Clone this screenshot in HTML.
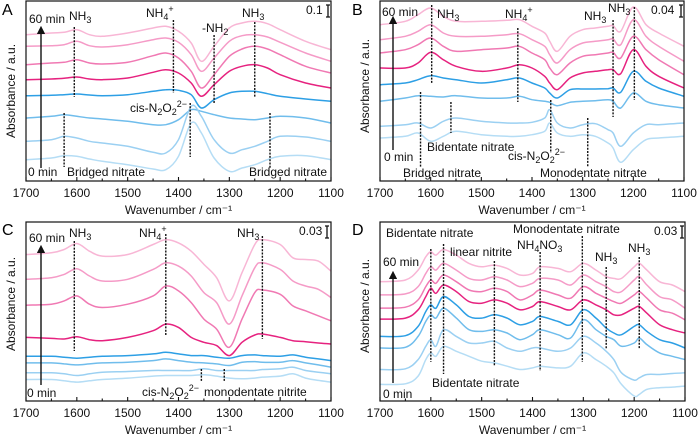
<!DOCTYPE html>
<html><head><meta charset="utf-8"><style>
html,body{margin:0;padding:0;background:#fff;}
svg{display:block;font-family:"Liberation Sans",sans-serif;}
.t{font-size:12px;fill:#111;}
.sub{font-size:9px;}
.ann{stroke:#111;stroke-width:1.4;stroke-dasharray:2 1.3;fill:none;}
.frame{fill:none;stroke:#111;stroke-width:1.2;}
</style></head><body>
<svg id="fig" width="700" height="438" viewBox="0 0 700 438">
<defs><marker id="ah" markerWidth="6" markerHeight="6" refX="3" refY="3" orient="auto"><path d="M0,0 L6,3 L0,6 z" fill="#111"/></marker></defs>
<g id="panels"></g>
<g>
<text x="2" y="15" style="font-size:16px">A</text>
<text class="t" x="29" y="23">60 min</text>
<text class="t" x="69" y="20">NH<tspan class="sub" dy="3">3</tspan></text>
<text class="t" x="146" y="17">NH<tspan class="sub" dy="3">4</tspan><tspan class="sub" dy="-8">+</tspan></text>
<text class="t" x="202" y="32">-NH<tspan class="sub" dy="3">2</tspan></text>
<text class="t" x="242" y="17">NH<tspan class="sub" dy="3">3</tspan></text>
<text class="t" x="306" y="14">0.1</text>
<text class="t" x="130" y="112">cis-N<tspan class="sub" dy="3">2</tspan><tspan dy="-3">O</tspan><tspan class="sub" dy="3">2</tspan><tspan class="sub" dy="-8">2−</tspan></text>
<text class="t" x="28" y="176">0 min</text>
<text class="t" x="67" y="176">Bridged nitrate</text>
<text class="t" x="249" y="176">Bridged nitrate</text>
</g>
<g>
<text x="352" y="15" style="font-size:16px">B</text>
<text class="t" x="382" y="16">60 min</text>
<text class="t" x="437" y="18">NH<tspan class="sub" dy="3">3</tspan></text>
<text class="t" x="505" y="18">NH<tspan class="sub" dy="3">4</tspan><tspan class="sub" dy="-8">+</tspan></text>
<text class="t" x="584" y="20">NH<tspan class="sub" dy="3">3</tspan></text>
<text class="t" x="608" y="12">NH<tspan class="sub" dy="3">3</tspan></text>
<text class="t" x="651" y="14">0.04</text>
<text class="t" x="384" y="161">0 min</text>
<text class="t" x="427" y="151">Bidentate nitrate</text>
<text class="t" x="403" y="177">Bridged nitrate</text>
<text class="t" x="508" y="160">cis-N<tspan class="sub" dy="3">2</tspan><tspan dy="-3">O</tspan><tspan class="sub" dy="3">2</tspan><tspan class="sub" dy="-8">2−</tspan></text>
<text class="t" x="540" y="177">Monodentate nitrate</text>
</g>
<g>
<text x="2" y="235" style="font-size:16px">C</text>
<text class="t" x="29" y="242">60 min</text>
<text class="t" x="69" y="237">NH<tspan class="sub" dy="3">3</tspan></text>
<text class="t" x="139" y="237">NH<tspan class="sub" dy="3">4</tspan><tspan class="sub" dy="-8">+</tspan></text>
<text class="t" x="237" y="237">NH<tspan class="sub" dy="3">3</tspan></text>
<text class="t" x="299" y="235">0.03</text>
<text class="t" x="27" y="397">0 min</text>
<text class="t" x="142" y="396">cis-N<tspan class="sub" dy="3">2</tspan><tspan dy="-3">O</tspan><tspan class="sub" dy="3">2</tspan><tspan class="sub" dy="-8">2−</tspan></text>
<text class="t" x="204" y="396">monodentate nitrite</text>
</g>
<g>
<text x="352" y="235" style="font-size:16px">D</text>
<text class="t" x="386" y="237">Bidentate nitrate</text>
<text class="t" x="450" y="256">linear nitrite</text>
<text class="t" x="513" y="233">Monodentate nitrate</text>
<text class="t" x="517" y="249">NH<tspan class="sub" dy="3">4</tspan><tspan dy="-3">NO</tspan><tspan class="sub" dy="3">3</tspan></text>
<text class="t" x="595" y="261">NH<tspan class="sub" dy="3">3</tspan></text>
<text class="t" x="628" y="252">NH<tspan class="sub" dy="3">3</tspan></text>
<text class="t" x="654" y="235">0.03</text>
<text class="t" x="383" y="266">60 min</text>
<text class="t" x="432" y="387">Bidentate nitrate</text>
<text class="t" x="383" y="398">0 min</text>
</g>
</svg>
<script>
const wnA=[1700,1650,1625,1600,1575,1550,1500,1450,1425,1400,1375,1355,1330,1300,1275,1250,1225,1200,1150,1100];
const a1=[439,444,446,454,439,434,444,459,464,449,414,359,404,459,474,479,472,454,419,394];
const a2=[404,406,409,419,406,402,409,424,429,416,379,329,369,419,436,439,432,416,384,359];
const a3=[349,354,356,364,354,351,356,376,384,369,329,279,319,374,396,404,396,379,344,324];
const a4=[304,306,308,312,306,304,309,326,334,324,294,254,289,329,344,349,339,319,294,279];
const a5=[256,257,259,261,258,256,259,269,274,272,259,219,244,264,269,269,262,254,246,239];
const a6=[189,194,199,194,189,186,179,169,169,184,214,209,199,189,186,184,189,194,189,174];
const a7=[119,124,134,129,119,114,104,86,84,124,224,194,124,84,94,104,119,134,132,119];
const a8=[64,69,76,74,66,59,49,36,34,74,174,144,69,29,39,49,64,74,76,64];

const wnB=[1700,1650,1625,1600,1575,1550,1500,1450,1425,1400,1375,1365,1350,1325,1300,1275,1250,1240,1225,1200,1175,1150,1100];
const b1=[469,479,499,519,494,479,479,482,484,464,444,419,389,434,454,459,464,466,449,522,469,444,404];
const b2=[424,434,449,469,444,434,434,439,442,424,404,379,354,394,414,419,424,426,409,484,434,404,359];
const b3=[384,394,409,429,404,389,394,399,404,384,364,339,319,354,374,379,384,386,369,434,394,364,319];
const b4=[339,339,354,386,364,344,329,339,349,339,314,294,274,309,324,329,334,334,322,394,344,314,279];
const b5=[289,294,304,316,309,304,294,304,309,294,279,264,249,274,276,276,277,279,266,329,299,279,254];
const b6=[239,249,256,254,252,256,249,249,254,244,239,236,226,236,239,241,244,239,219,264,239,229,219];
const b7=[164,169,174,159,179,189,179,174,174,176,189,214,174,159,169,172,154,144,104,144,169,169,174];
const b8=[129,134,144,119,134,149,139,134,134,139,149,174,144,134,139,134,114,99,56,94,124,129,134];

const wnC=[1700,1650,1625,1600,1575,1550,1500,1450,1425,1400,1375,1350,1325,1300,1275,1250,1235,1200,1175,1150,1125,1100];
const c1=[442,447,457,475,452,437,442,472,487,477,452,412,372,302,387,472,487,472,432,427,422,392];
const c2=[367,372,382,399,377,362,367,397,417,407,377,327,297,232,317,402,417,397,362,347,337,312];
const c3=[289,292,302,317,292,282,292,317,347,332,297,247,217,162,247,327,335,322,287,272,257,242];
const c4=[192,189,187,194,185,182,192,212,232,222,192,177,167,137,177,199,202,192,182,179,175,172];
const c5=[135,135,132,129,132,135,137,142,147,142,137,137,132,129,137,139,137,135,139,132,127,122];
const c6=[115,115,112,109,112,115,117,122,127,122,117,115,112,107,117,119,117,117,122,115,109,102];
const c7=[85,85,82,77,82,87,89,92,92,92,92,97,92,92,92,92,95,97,102,92,87,82];
const c8=[65,65,61,57,61,65,69,75,77,77,77,79,75,69,67,69,72,75,82,69,62,57];

const wnD=[1700,1650,1625,1610,1600,1590,1575,1550,1525,1500,1475,1450,1425,1400,1385,1350,1325,1300,1275,1255,1240,1225,1200,1190,1175,1150,1125,1100];
const d1=[360,365,395,435,450,440,457,440,415,405,410,400,380,385,405,400,390,415,395,375,370,370,405,415,395,360,350,330];
const d2=[320,323,345,385,405,395,415,395,370,365,375,365,345,355,370,365,350,380,360,345,330,330,365,375,350,315,305,280];
const d3=[280,283,305,345,365,355,380,360,335,330,340,330,305,320,335,320,310,345,325,310,300,295,320,330,310,275,265,245];
const d4=[247,250,275,315,340,325,350,330,300,295,305,295,275,285,300,285,275,305,290,275,260,260,280,285,265,230,215,205];
const d5=[195,197,225,270,290,280,315,290,255,250,260,250,230,240,255,240,230,275,250,220,205,200,225,230,210,185,175,160];
const d6=[160,162,195,240,260,250,280,250,215,210,215,205,185,200,215,200,190,245,215,195,185,165,175,190,170,145,135,125];
const d7=[95,97,125,165,185,165,215,195,175,175,180,160,150,160,160,150,160,195,175,150,125,85,63,70,80,80,83,85];
const d8=[50,52,75,125,145,135,165,150,135,120,115,105,95,100,105,100,105,145,125,105,85,50,15,20,35,40,42,45];

const xTicks=[1700,1600,1500,1400,1300,1200,1100];
const seriesColors=['#f8b6d5','#f59bc7','#f079b3','#e6227f','#2d9fe5','#70bdec','#9bd0f2','#b5ddf5'];

const panels=[
 {id:'a',L:26,R:331,T:1,B:181,wn:wnA,series:[a1,a2,a3,a4,a5,a6,a7,a8],
  ann:[[1605,27,97],[1410,20,93],[1330,35,103],[1250,22,97],[1377,103,157],[1625,113,167],[1220,113,168]],
  arrow:[41,168,27],bar:[328,5,17],ylab:[12,91]},
 {id:'b',L:380,R:684,T:1,B:181,wn:wnB,series:[b1,b2,b3,b4,b5,b6,b7,b8],
  ann:[[1598,5,83],[1428,28,102],[1240,20,117],[1198,7,100],[1620,92,167],[1560,102,133],[1363,100,153],[1290,118,167]],
  arrow:[393,150,17],bar:[681,5,17],ylab:[366,86]},
 {id:'c',L:26,R:331,T:222,B:401,wn:wnC,series:[c1,c2,c3,c4,c5,c6,c7,c8],
  ann:[[1605,241,351],[1425,234,336],[1235,236,339],[1355,369,381],[1310,369,382]],
  arrow:[41,385,246],bar:[327,226,238],ylab:[12,304]},
 {id:'d',L:380,R:685,T:222,B:401,wn:wnD,series:[d1,d2,d3,d4,d5,d6,d7,d8],
  ann:[[1600,249,362],[1575,244,374],[1475,261,366],[1385,252,371],[1302,236,362],[1255,267,349],[1190,257,349]],
  arrow:[393,383,272],bar:[682,226,238],ylab:[366,306]}
];

const NS='http://www.w3.org/2000/svg';
const root=document.getElementById('panels');
function mk(tag,attrs,parent){const e=document.createElementNS(NS,tag);for(const k in attrs)e.setAttribute(k,attrs[k]);parent.appendChild(e);return e;}
function smooth(pts){
  let d='M'+pts[0][0].toFixed(1)+','+pts[0][1].toFixed(1);
  for(let i=0;i<pts.length-1;i++){
    const p0=pts[i-1]||pts[i],p1=pts[i],p2=pts[i+1],p3=pts[i+2]||p2;
    const c1x=p1[0]+(p2[0]-p0[0])/6,c1y=p1[1]+(p2[1]-p0[1])/6;
    const c2x=p2[0]-(p3[0]-p1[0])/6,c2y=p2[1]-(p3[1]-p1[1])/6;
    d+=' C'+c1x.toFixed(1)+','+c1y.toFixed(1)+' '+c2x.toFixed(1)+','+c2y.toFixed(1)+' '+p2[0].toFixed(1)+','+p2[1].toFixed(1);
  }
  return d;
}
panels.forEach(p=>{
  const g=mk('g',{},root);
  
  
  const xs=w=>p.L+(1700-w)/600*(p.R-p.L);
  const ys=v=>p.B-v/540*(p.B-p.T);
  p.series.forEach((s,i)=>{
    const pts=p.wn.map((w,j)=>[xs(w),ys(s[j])]);
    const path=mk('path',{d:smooth(pts),fill:'none',stroke:seriesColors[i],'stroke-width':1.5},g);
    
    
  });
  p.ann.forEach(a=>{
    const l=mk('line',{x1:xs(a[0]),x2:xs(a[0]),y1:a[1],y2:a[2],class:'ann'},g);
    
    
  });
  const fr=mk('rect',{x:p.L,y:p.T,width:p.R-p.L,height:p.B-p.T,class:'frame'},g);
  
  
  for(let w=1700;w>=1100;w-=50){
    const major=w%100===0;
    const t=mk('line',{x1:xs(w),x2:xs(w),y1:p.B,y2:p.B-(major?4:2.5),stroke:'#111','stroke-width':1.1},g);
    
    
  }
  xTicks.forEach(w=>{
    const tx=mk('text',{x:xs(w),y:p.B+16,'text-anchor':'middle',class:'t'},g);
    tx.textContent=w;
    
    
  });
  const xt=mk('text',{x:(p.L+p.R)/2,y:p.B+33,'text-anchor':'middle',class:'t'},g);
  xt.textContent='Wavenumber / cm\u207B\u00B9';
  
  
  const yt=mk('text',{x:p.ylab[0],y:p.ylab[1],'text-anchor':'middle',class:'t',transform:'rotate(-90 '+p.ylab[0]+' '+p.ylab[1]+')','dominant-baseline':'middle'},g);
  yt.textContent='Absorbance / a.u.';
  
  
  const ar=mk('line',{x1:p.arrow[0],x2:p.arrow[0],y1:p.arrow[1],y2:p.arrow[2]+3,stroke:'#111','stroke-width':1.4,'marker-end':'url(#ah)'},g);
  
  
  const sb=mk('path',{d:'M'+(p.bar[0]-2)+','+p.bar[1]+' h4 M'+p.bar[0]+','+p.bar[1]+' V'+p.bar[2]+' M'+(p.bar[0]-2)+','+p.bar[2]+' h4',stroke:'#111','stroke-width':1.3,fill:'none'},g);
  
  
});
</script>
</body></html>
